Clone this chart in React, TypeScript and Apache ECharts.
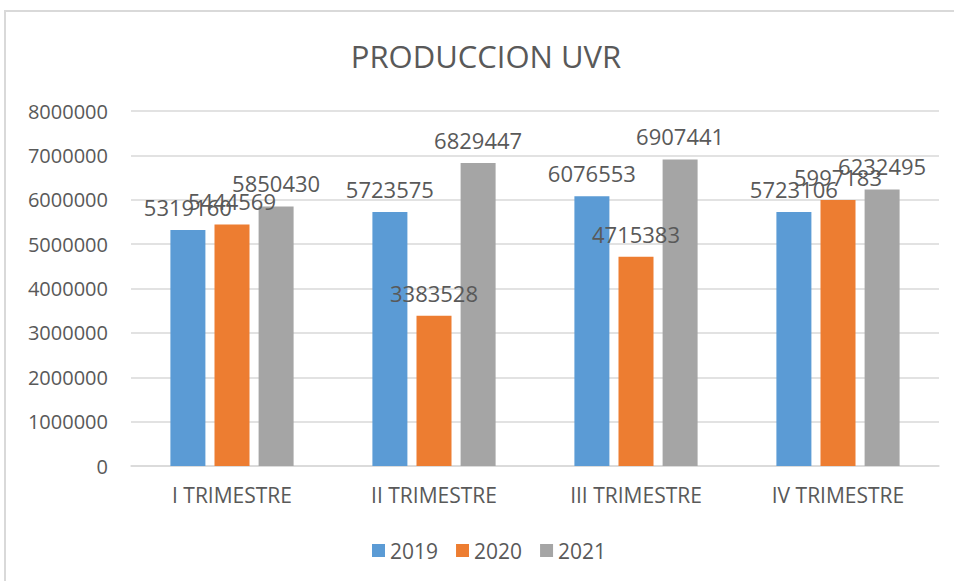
import React, { useEffect, useRef } from "react";
import * as echarts from "echarts";

const categories = ["I TRIMESTRE", "II TRIMESTRE", "III TRIMESTRE", "IV TRIMESTRE"];
const seriesNames = ["2019", "2020", "2021"];
const values2019 = [5319160, 5723575, 6076553, 5723106];
const values2020 = [5444569, 3383528, 4715383, 5997183];
const values2021 = [5850430, 6829447, 6907441, 6232495];
const colors = ["#5B9BD5", "#ED7D31", "#A5A5A5"];
const titleText = "PRODUCCION UVR";

const FONT = "'Open Sans', sans-serif";
const TEXT = "#595959";

export default function App() {
  const ref = useRef<HTMLDivElement>(null);
  useEffect(() => {
    document.body.style.margin = "0";
    const chart = echarts.init(ref.current!, null, { renderer: "svg" });
    const data = [values2019, values2020, values2021];
    chart.setOption({
      animation: false,
      backgroundColor: "#ffffff",
      textStyle: { fontFamily: FONT },
      graphic: [
        {
          type: "rect",
          shape: { x: 5, y: 11, width: 1000, height: 700 },
          style: { fill: "none", stroke: "#d9d9d9", lineWidth: 2 },
          silent: true,
        },
        {
          type: "text",
          x: 486,
          y: 56,
          style: {
            text: titleText,
            fill: TEXT,
            fontSize: 31,
            fontFamily: FONT,
            textAlign: "center",
            textVerticalAlign: "middle",
          },
        },
      ],
      legend: {
        data: seriesNames,
        left: 367,
        top: 535,
        icon: "rect",
        itemWidth: 13,
        itemHeight: 13,
        itemGap: 18,
        textStyle: { color: TEXT, fontSize: 21, fontFamily: FONT },
      },
      grid: { left: 131, right: 15, top: 111, bottom: 115, containLabel: false },
      xAxis: {
        type: "category",
        data: categories,
        axisLine: { show: true, lineStyle: { color: "#d9d9d9", width: 1.5 } },
        axisTick: { show: false },
        axisLabel: { color: TEXT, fontSize: 21, fontFamily: FONT, margin: 18 },
      },
      yAxis: {
        type: "value",
        min: 0,
        max: 8000000,
        interval: 1000000,
        axisLine: { show: false },
        axisTick: { show: false },
        splitLine: { lineStyle: { color: "#d9d9d9", width: 1.5 } },
        axisLabel: {
          color: TEXT,
          fontSize: 20,
          fontFamily: FONT,
          margin: 23,
          formatter: (v: number) => String(v),
        },
      },
      series: seriesNames.map((name, i) => ({
        name,
        type: "bar",
        data: data[i],
        barWidth: 35,
        barGap: "26%",
        itemStyle: { color: colors[i] },
        label: {
          show: true,
          position: "top",
          distance: 12,
          color: TEXT,
          fontSize: 22,
          fontFamily: FONT,
        },
      })),
    });
    return () => chart.dispose();
  }, []);
  return (
    <div
      ref={ref}
      style={{ position: "fixed", left: 0, top: 0, width: 954, height: 581 }}
    />
  );
}
